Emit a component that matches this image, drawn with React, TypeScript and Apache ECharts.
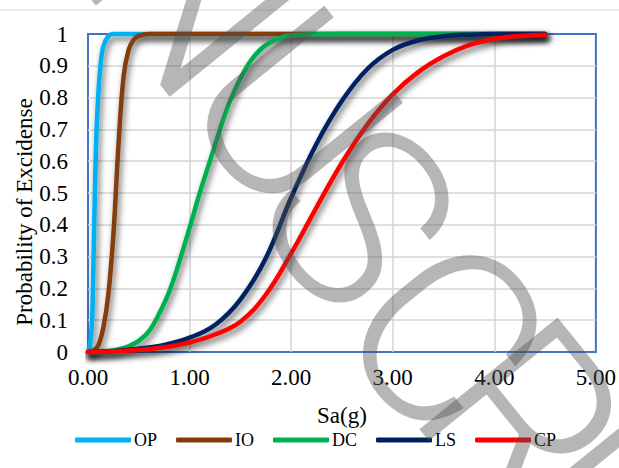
import React, { useEffect, useRef } from "react";
import * as echarts from "echarts";

// Fragility curves: probability of exceedance vs spectral acceleration Sa(g)
const seriesNames = ["OP", "IO", "DC", "LS", "CP"];

const opData = [
  [0, 0], [0.02, 0.02], [0.04, 0.1], [0.05, 0.22], [0.06, 0.38], [0.08, 0.66],
  [0.1, 0.8], [0.12, 0.89], [0.15, 0.96], [0.2, 0.993], [0.25, 1], [4.5, 1],
];
const ioData = [
  [0, 0], [0.05, 0.003], [0.1, 0.02], [0.15, 0.075], [0.2, 0.18], [0.25, 0.37],
  [0.3, 0.65], [0.35, 0.865], [0.4, 0.95], [0.45, 0.982], [0.5, 0.994],
  [0.6, 1], [4.5, 1],
];
const dcData = [
  [0, 0], [0.2, 0.003], [0.3, 0.008], [0.4, 0.018], [0.5, 0.035], [0.6, 0.065],
  [0.7, 0.12], [0.8, 0.19], [0.9, 0.285], [1.0, 0.39], [1.1, 0.5], [1.2, 0.6],
  [1.3, 0.7], [1.4, 0.79], [1.5, 0.86], [1.6, 0.915], [1.7, 0.952],
  [1.8, 0.975], [1.9, 0.988], [2.0, 0.995], [2.2, 0.999], [2.5, 1], [4.5, 1],
];
const lsData = [
  [0, 0], [0.25, 0.003], [0.5, 0.01], [0.75, 0.022], [1.0, 0.045], [1.25, 0.085],
  [1.5, 0.165], [1.75, 0.295], [2.0, 0.485], [2.25, 0.655], [2.5, 0.79],
  [2.75, 0.89], [3.0, 0.95], [3.25, 0.98], [3.5, 0.993], [3.75, 0.998],
  [4.0, 1], [4.5, 1],
];
const cpData = [
  [0, 0], [0.25, 0.002], [0.5, 0.007], [0.75, 0.015], [1.0, 0.03], [1.25, 0.055],
  [1.5, 0.095], [1.75, 0.18], [2.0, 0.31], [2.25, 0.455], [2.5, 0.595],
  [2.75, 0.715], [3.0, 0.81], [3.25, 0.88], [3.5, 0.93], [3.75, 0.965],
  [4.0, 0.985], [4.25, 0.994], [4.5, 0.998],
];

const xMin = 0;
const xMax = 5;
const xStep = 1;
const yMin = 0;
const yMax = 1;
const yStep = 0.1;

const xTitle = "Sa(g)";
const yTitle = "Probability of Excidense";

const allData = [opData, ioData, dcData, lsData, cpData];
const colors = ["#00B0F0", "#843C0C", "#00B050", "#002060", "#FF0000"];

const SERIF = "Liberation Serif, Times New Roman, DejaVu Serif, serif";

// Diagonal watermark letters: [letter, offset along the baseline, offset across it]
const watermark: [string, number, number][] = [
  ["M", -470, 0], ["A", -310, 0], ["N", -155, 0], ["U", 0, 0], ["S", 123, -15],
  ["C", 271, -23], ["R", 384, -15], ["I", 459, 0], ["P", 560, 0], ["T", 700, 0],
];

export default function App() {
  const ref = useRef<HTMLDivElement>(null);

  useEffect(() => {
    if (!ref.current) return;
    const chart = echarts.init(ref.current, undefined, { renderer: "svg" });

    const angle = (51 * Math.PI) / 180;
    const along = [Math.cos(angle), Math.sin(angle)];
    const up = [Math.sin(angle), -Math.cos(angle)];
    const origin = [292, 112];

    const watermarkEls = watermark.map(([ch, a, p]) => ({
      type: "text",
      x: origin[0] + along[0] * a + up[0] * p,
      y: origin[1] + along[1] * a + up[1] * p,
      rotation: -angle,
      z: 100,
      silent: true,
      style: {
        text: ch,
        fontFamily: "Roboto",
        fontWeight: 300,
        fontSize: 250,
        fill: "rgba(80,80,80,0.42)",
        align: "center",
        verticalAlign: "middle",
      },
    }));

    const labelFont = { fontFamily: SERIF, fontSize: 23, color: "#000" };

    chart.setOption({
      animation: false,
      backgroundColor: "#ffffff",
      textStyle: { fontFamily: SERIF },
      grid: {
        left: 88,
        right: 21,
        top: 34,
        bottom: 116,
        show: true,
        borderColor: "#4472C4",
        borderWidth: 2,
        backgroundColor: "transparent",
      },
      xAxis: {
        type: "value",
        min: xMin,
        max: xMax,
        interval: xStep,
        name: xTitle,
        nameLocation: "middle",
        nameGap: 52,
        nameTextStyle: labelFont,
        axisLine: { show: false },
        axisTick: { show: false },
        axisLabel: {
          ...labelFont,
          margin: 14,
          formatter: (v: number) => v.toFixed(2),
        },
        splitLine: {
          show: true,
          showMinLine: false,
          showMaxLine: false,
          lineStyle: { color: "#d4d4d4", width: 1.5 },
        },
      },
      yAxis: {
        type: "value",
        min: yMin,
        max: yMax,
        interval: yStep,
        axisLine: { show: false },
        axisTick: { show: false },
        axisLabel: {
          ...labelFont,
          margin: 20,
          formatter: (v: number) =>
            v === 0 ? "0" : v === 1 ? "1" : v.toFixed(1),
        },
        splitLine: {
          show: true,
          showMinLine: false,
          showMaxLine: false,
          lineStyle: { color: "#d4d4d4", width: 1.5 },
        },
      },
      legend: {
        data: seriesNames,
        left: 75,
        top: 431,
        icon: "roundRect",
        itemWidth: 56,
        itemHeight: 5,
        itemGap: 19,
        padding: 0,
        itemStyle: { borderWidth: 0 },
        textStyle: { fontFamily: SERIF, fontSize: 18, color: "#000", padding: [0, 0, 0, -2] },
      },
      series: seriesNames.map((name, i) => ({
        name,
        type: "line",
        data: allData[i],
        smooth: 0.4,
        showSymbol: false,
        symbol: "none",
        clip: false,
        color: colors[i],
        lineStyle: {
          width: 4.5,
          color: colors[i],
          cap: "round",
          shadowColor: "rgba(0,0,0,0.6)",
          shadowBlur: 6,
          shadowOffsetX: 2,
          shadowOffsetY: 4,
        },
      })),
      graphic: [
        {
          type: "line",
          shape: { x1: 0, y1: 10, x2: 619, y2: 10 },
          style: { stroke: "#d9d9d9", lineWidth: 1 },
          silent: true,
        },
        {
          type: "text",
          x: 24,
          y: 212,
          rotation: Math.PI / 2,
          style: {
            text: yTitle,
            fontFamily: SERIF,
            fontSize: 23,
            fill: "#000",
            align: "center",
            verticalAlign: "middle",
          },
        },
        ...watermarkEls,
      ],
    });

    return () => chart.dispose();
  }, []);

  return (
    <div
      ref={ref}
      style={{ position: "fixed", left: 0, top: 0, width: 619, height: 468 }}
    />
  );
}
